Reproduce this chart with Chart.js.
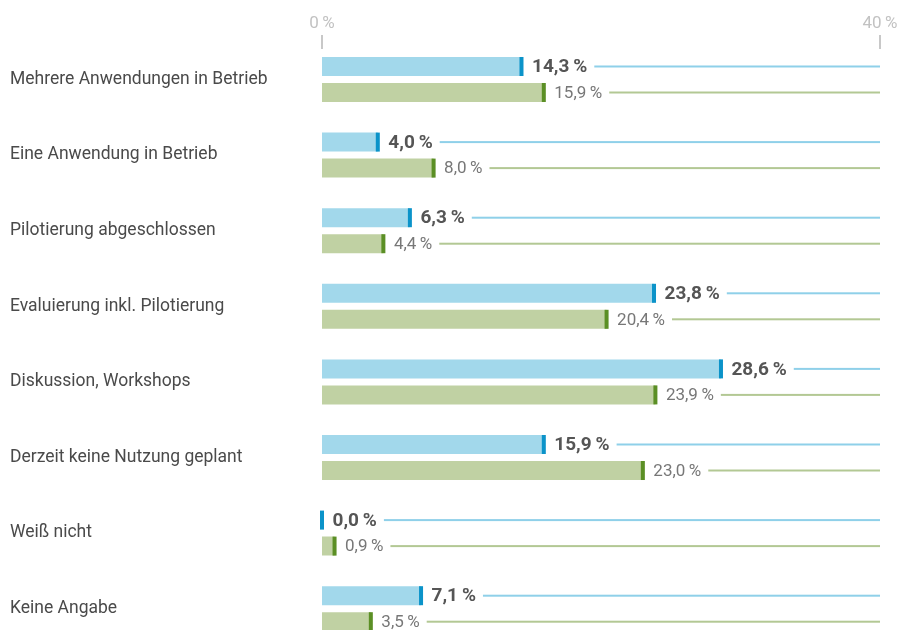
<!DOCTYPE html>
<html>
<head>
<meta charset="utf-8">
<script src="https://cdn.jsdelivr.net/npm/chart.js@4"></script>
<style>
    html, body { margin: 0; background: #fff; overflow: hidden; }
    /* canvas is a bit taller than the window: the last group is cut off like in the original */
    #wrap { width: 911px; height: 660px; }
</style>
</head>
<body>
<div id="wrap"><canvas id="usageChart" width="911" height="660"></canvas></div>
<script>
// Data
const categories = [
    'Mehrere Anwendungen in Betrieb',
    'Eine Anwendung in Betrieb',
    'Pilotierung abgeschlossen',
    'Evaluierung inkl. Pilotierung',
    'Diskussion, Workshops',
    'Derzeit keine Nutzung geplant',
    'Weiß nicht',
    'Keine Angabe'
];
const valuesBlue = [14.3, 4.0, 6.3, 23.8, 28.6, 15.9, 0.0, 7.1];
const valuesGreen = [15.9, 8.0, 4.4, 20.4, 23.9, 23.0, 0.9, 3.5];
const axisMin = 0;
const axisMax = 40;

const FONT = 'Roboto, "Liberation Sans", sans-serif';

// Colours per series: bar fill, end marker, value text, trailing line
const seriesStyle = [
    { bar: '#a2d8eb', marker: '#0b93c9', text: '#555555', font: 'bold 19px ', line: '#8fd0e9' },
    { bar: '#c0d1a3', marker: '#5b8f25', text: '#777777', font: 'normal 17px ', line: '#b3c894' }
];

// German number format, e.g. 14,3 %
function formatPercent(v) {
    return v.toFixed(1).replace('.', ',') + '\u2009%';
}

// Draws the dark end marker, the value label and the thin line up to the axis end
const barDecorations = {
    id: 'barDecorations',
    afterDatasetsDraw(chart) {
        const ctx = chart.ctx;
        const area = chart.chartArea;
        ctx.save();
        chart.data.datasets.forEach((ds, i) => {
            const meta = chart.getDatasetMeta(i);
            const st = seriesStyle[i];
            meta.data.forEach((bar, j) => {
                const h = bar.height;
                // end marker
                ctx.fillStyle = st.marker;
                ctx.fillRect(bar.x - 2, bar.y - h / 2, 4, h);
                // value label
                const label = formatPercent(ds.data[j]);
                ctx.font = st.font + FONT;
                ctx.fillStyle = st.text;
                ctx.textBaseline = 'middle';
                ctx.textAlign = 'left';
                const tx = bar.x + 10.5;
                ctx.fillText(label, tx, bar.y + 1);
                const tw = ctx.measureText(label).width;
                // trailing line
                const lx = tx + tw + 7;
                ctx.fillStyle = st.line;
                ctx.fillRect(lx, bar.y - 1, area.right - lx, 2);
            });
        });
        // small tick marks under the 0 % / 40 % labels
        const xs = chart.scales.x;
        ctx.fillStyle = '#c8c8c8';
        xs.ticks.forEach(t => {
            const px = xs.getPixelForValue(t.value);
            ctx.fillRect(px - 1, 35, 2, 14);
        });
        ctx.restore();
    }
};

const ctx = document.getElementById('usageChart').getContext('2d');

const usageChart = new Chart(ctx, {
    type: 'bar',
    data: {
        labels: categories,
        datasets: [
            { data: valuesBlue, backgroundColor: seriesStyle[0].bar },
            { data: valuesGreen, backgroundColor: seriesStyle[1].bar }
        ]
    },
    options: {
        indexAxis: 'y',
        responsive: false,
        animation: false,
        categoryPercentage: 0.688,
        barPercentage: 0.731,
        layout: {
            padding: { left: 10, right: 31, top: 0, bottom: 13.5 }
        },
        plugins: {
            legend: { display: false },
            tooltip: { enabled: false }
        },
        scales: {
            x: {
                position: 'top',
                min: axisMin,
                max: axisMax,
                afterFit(scale) { scale.height = 41.7; },
                ticks: {
                    stepSize: 40,
                    padding: 8,
                    color: '#c2c2c2',
                    font: { family: FONT, size: 17 },
                    callback: v => v + '\u2009%'
                },
                grid: { display: false, drawTicks: false },
                border: { display: false }
            },
            y: {
                afterFit(scale) { scale.width = 312; },
                ticks: {
                    crossAlign: 'far',
                    padding: 0,
                    color: '#4a4a4a',
                    font: { family: FONT, size: 17.5 }
                },
                grid: { display: false, drawTicks: false },
                border: { display: false }
            }
        }
    },
    plugins: [barDecorations]
});
</script>
</body>
</html>
